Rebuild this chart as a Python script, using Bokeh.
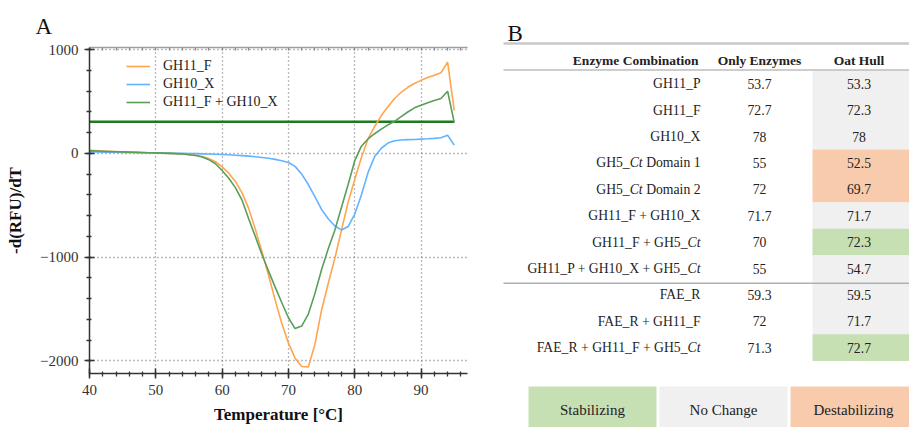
from bokeh.plotting import figure
from bokeh.models import (Range1d, LinearAxis, SingleIntervalTicker, FixedTicker, Legend,
                          LegendItem, ColumnDataSource)
from bokeh.layouts import row, column
from bokeh.embed import file_html
from bokeh.resources import INLINE
from bokeh.core.properties import value

# ---------------- data: panel A (melt curves) ----------------
temperature = list(range(40, 96))
gh11_f = [30, 27, 24, 21, 18, 15, 12, 10, 8, 6,
          5, 3, 1, -2, -6, -11, -18, -30, -50, -80,
          -130, -190, -270, -380, -530, -730, -945, -1175, -1415, -1640,
          -1830, -1975, -2055, -2060, -1840, -1510, -1255, -1010, -740, -470,
          -250, -40, 140, 260, 365, 450, 530, 590, 638, 675,
          705, 732, 754, 778, 880, 415]
gh10_x = [15, 14, 13, 12, 11, 10, 9, 8, 7, 6,
          5, 4, 3, 2, 1, 0, -2, -4, -6, -8,
          -10, -13, -17, -21, -26, -32, -39, -47, -57, -70,
          -88, -125, -200, -300, -420, -540, -630, -700, -738, -705,
          -585, -400, -185, -30, 50, 100, 122, 130, 133, 135,
          138, 141, 145, 152, 175, 80]
gh11_f_gh10_x = [25, 23, 21, 19, 17, 15, 13, 11, 9, 7,
                 5, 3, 1, -2, -6, -12, -20, -35, -60, -100,
                 -165, -240, -330, -450, -630, -800, -975, -1135, -1290, -1440,
                 -1585, -1690, -1665, -1550, -1350, -1120, -920, -740, -520, -300,
                 -70, 70, 140, 190, 235, 275, 310, 355, 400, 440,
                 465, 490, 510, 530, 600, 300]
series_names = ["GH11_F", "GH10_X", "GH11_F + GH10_X"]
series_values = [gh11_f, gh10_x, gh11_f_gh10_x]
series_colors = ["#ffa54f", "#63b3ff", "#5a9e5a"]
threshold_temperature = [40, 95]
threshold_level = 305
top_minor_ticks = list(range(40, 97, 2))

# ---------------- data: panel B (table) ----------------
enzyme_combinations = ["GH11_P", "GH11_F", "GH10_X", "GH5_*Ct* Domain 1",
                       "GH5_*Ct* Domain 2", "GH11_F + GH10_X", "GH11_F + GH5_*Ct*",
                       "GH11_P + GH10_X + GH5_*Ct*", "FAE_R", "FAE_R + GH11_F",
                       "FAE_R + GH11_F + GH5_*Ct*"]
only_enzymes = [53.7, 72.7, 78, 55, 72, 71.7, 70, 55, 59.3, 72, 71.3]
oat_hull = [53.3, 72.3, 78, 52.5, 69.7, 71.7, 72.3, 54.7, 59.5, 71.7, 72.7]
effect = ["No Change", "No Change", "No Change", "Destabilizing", "Destabilizing",
          "No Change", "Stabilizing", "No Change", "No Change", "No Change",
          "Stabilizing"]
header = ["Enzyme Combination", "Only Enzymes", "Oat Hull"]
group_break_before = 8
effect_categories = ["Stabilizing", "No Change", "Destabilizing"]
effect_colors = {"Stabilizing": "#c6e0b4", "No Change": "#f0f0f0",
                 "Destabilizing": "#f8cbad"}

FONT = "Liberation Serif"

# ================= panel A =================
p = figure(width=500, height=427, x_range=Range1d(40, 97), y_range=Range1d(-2123, 1022),
           output_backend="svg", toolbar_location=None,
           min_border_left=89, min_border_right=33, min_border_top=47, min_border_bottom=54)
p.outline_line_color = None
p.background_fill_color = "white"
p.border_fill_color = "white"

p.title.text = "A"
p.title.text_font = FONT
p.title.text_font_size = "23px"
p.title.text_font_style = "normal"
p.title.text_color = "#111111"
p.title.align = "left"
p.title.offset = -54
p.title.standoff = 14
p.title.vertical_align = "top"

xt = SingleIntervalTicker(interval=10, num_minor_ticks=5)
yt = SingleIntervalTicker(interval=1000, num_minor_ticks=5)
p.xaxis.ticker = xt
p.yaxis.ticker = yt
p.xgrid.ticker = xt
p.ygrid.ticker = yt
for g in (p.xgrid[0], p.ygrid[0]):
    g.grid_line_color = "#777777"
    g.grid_line_dash = "1 3"
    g.grid_line_width = 1.3

for ax in (p.xaxis[0], p.yaxis[0]):
    ax.axis_line_color = "#333333"
    ax.axis_line_width = 1.5
    ax.major_tick_line_color = "#333333"
    ax.major_tick_line_width = 1.5
    ax.major_tick_in = 5
    ax.major_tick_out = 5
    ax.minor_tick_line_color = "#333333"
    ax.minor_tick_line_width = 1.3
    ax.minor_tick_in = 2
    ax.minor_tick_out = 3
    ax.major_label_text_font = FONT
    ax.major_label_text_font_size = "15px"
    ax.major_label_text_color = "#333333"
    ax.axis_label_text_font = FONT
    ax.axis_label_text_font_style = "bold"
    ax.axis_label_text_font_size = "17px"
    ax.axis_label_text_color = "#111111"
p.xaxis.axis_label = "Temperature [°C]"
p.yaxis.axis_label = "-d(RFU)/dT"
p.xaxis.major_label_standoff = 6
p.xaxis.axis_label_standoff = 7
p.yaxis.major_label_standoff = 6
p.yaxis.axis_label_standoff = 12

top = LinearAxis(ticker=FixedTicker(ticks=[], minor_ticks=top_minor_ticks),
                 axis_line_color="#a0a0a0", axis_line_width=1.5,
                 major_tick_in=0, major_tick_out=0, minor_tick_in=3, minor_tick_out=0,
                 minor_tick_line_color="#888888", minor_tick_line_width=1.2)
p.add_layout(top, "above")

p.line(threshold_temperature, [threshold_level] * len(threshold_temperature),
       line_color="#1f7a1f", line_width=2.6)

items = []
for name, vals, col in zip(series_names, series_values, series_colors):
    r = p.line(temperature, vals, line_color=col, line_width=1.6)
    items.append(LegendItem(label=name, renderers=[r]))

legend = Legend(items=items, location=(37, 262), glyph_width=24, glyph_height=18,
                label_height=18, label_standoff=13, spacing=0, padding=0, margin=0,
                label_text_font=FONT, label_text_font_size="14px",
                label_text_color="#222222", border_line_color=None,
                background_fill_alpha=0)
p.add_layout(legend)

# ================= panel B =================
t = figure(width=409, height=427, x_range=Range1d(0, 409), y_range=Range1d(427, 0),
           output_backend="svg", toolbar_location=None, min_border=0,
           x_axis_type=None, y_axis_type=None)
t.grid.visible = False
t.outline_line_color = None
t.border_fill_color = "white"

ROW_TOP, ROW_H = 70, 26.4
LABEL_RIGHT, COL2_X, COL3_LEFT, COL3_RIGHT = 200, 259, 312, 409
TXT = "13.7px"

n = len(enzyme_combinations)
row_y = [ROW_TOP + (i + 0.5) * ROW_H for i in range(n)]

# cell backgrounds of the Oat Hull column
t.rect(x=[(COL3_LEFT + COL3_RIGHT) / 2] * n, y=row_y, width=COL3_RIGHT - COL3_LEFT,
       height=ROW_H + 0.3, fill_color=[effect_colors[e] for e in effect], line_color=None)

# rules
t.line([3, 409], [43, 43], line_color="#c8c8c8", line_width=2.5)
t.line([3, 409], [69.5, 69.5], line_color="#bdbdbd", line_width=1.5)
sep_y = ROW_TOP + group_break_before * ROW_H + 1.5
t.line([3, 409], [sep_y, sep_y], line_color="#b0b0b0", line_width=1.5)

t.text(x=[7], y=[33], text=["B"], text_font=value(FONT), text_font_size="23px",
       text_color="#111111", text_baseline="alphabetic")

# header
t.text(x=[LABEL_RIGHT - 2, COL2_X, (COL3_LEFT + COL3_RIGHT) / 2 - 2], y=[60] * 3, text=header,
       text_align=["right", "center", "center"], text_baseline="middle",
       text_font=value(FONT), text_font_style="bold", text_font_size="13.5px",
       text_color="#222222")

# Times / Liberation Serif advance widths (per 1000 em)
W_REG = {" ": 250, "+": 564, "A": 722, "C": 667, "D": 722, "E": 611, "F": 556, "G": 722,
         "H": 722, "P": 556, "R": 667, "X": 722, "_": 500, "a": 444, "i": 278, "m": 778,
         "n": 500, "o": 500, "t": 278}
W_IT = {"C": 667, "t": 278}
size_px = float(TXT[:-2])


def seg_width(s, italic):
    tab = W_IT if italic else W_REG
    return sum(tab.get(ch, W_REG.get(ch, 500)) for ch in s) * size_px / 1000.0


lx, ly, ltxt, lstyle = [], [], [], []
for lab, yy in zip(enzyme_combinations, row_y):
    parts = lab.split("*")
    segs = [(s, i % 2 == 1) for i, s in enumerate(parts) if s]
    xr = LABEL_RIGHT
    for s, it in reversed(segs):
        lx.append(xr)
        ly.append(yy)
        ltxt.append(s.strip())
        lstyle.append("italic" if it else "normal")
        xr -= seg_width(s, it)
src = ColumnDataSource(dict(x=lx, y=ly, text=ltxt, style=lstyle))
t.text(x="x", y="y", text="text", text_font_style="style", source=src, text_align="right",
       text_baseline="middle", text_font=value(FONT), text_font_size=TXT, text_color="#222222")

t.text(x=[COL2_X] * n, y=row_y, text=[f"{v:g}" for v in only_enzymes], text_align="center",
       text_baseline="middle", text_font=value(FONT), text_font_size=TXT, text_color="#222222")
t.text(x=[(COL3_LEFT + COL3_RIGHT) / 2 - 2] * n, y=row_y, text=[f"{v:g}" for v in oat_hull],
       text_align="center", text_baseline="middle", text_font=value(FONT),
       text_font_size=TXT, text_color="#222222")

# colour key
BOX_W, BOX_GAP, BOX_X0, BOX_TOP, BOX_BOT = 128, 3, 28, 386, 445
bx = [BOX_X0 + BOX_W / 2 + i * (BOX_W + BOX_GAP) for i in range(len(effect_categories))]
t.rect(x=bx, y=[(BOX_TOP + BOX_BOT) / 2] * 3, width=BOX_W, height=BOX_BOT - BOX_TOP,
       fill_color=[effect_colors[c] for c in effect_categories], line_color=None)
t.text(x=[bx[0], bx[1], bx[2] - 1], y=[409] * 3, text=effect_categories, text_align="center",
       text_baseline="middle", text_font=value(FONT), text_font_size="15px",
       text_color="#222222")

layout = row(p, column(t))
open("out.html", "w").write(file_html(layout, INLINE))
